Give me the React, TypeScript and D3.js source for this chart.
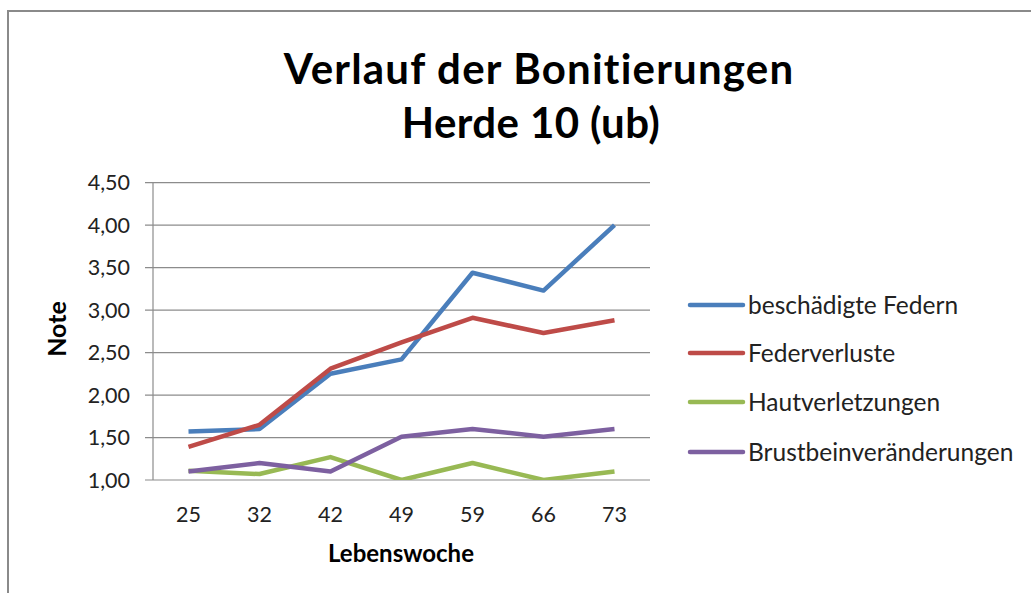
import React from "react";
import * as d3 from "d3";

const weeks = ["25", "32", "42", "49", "59", "66", "73"];
const beschaedigteFedern = [1.57, 1.6, 2.25, 2.42, 3.44, 3.23, 4.0];
const federverluste = [1.39, 1.65, 2.31, 2.62, 2.91, 2.73, 2.88];
const hautverletzungen = [1.11, 1.07, 1.27, 1.0, 1.2, 1.0, 1.1];
const brustbein = [1.1, 1.2, 1.1, 1.51, 1.6, 1.51, 1.6];
const seriesNames = ["beschädigte Federn", "Federverluste", "Hautverletzungen", "Brustbeinveränderungen"];
const seriesColors = ["#4a7ebb", "#be4b48", "#98b954", "#7d60a0"];
const yTicks = [1, 1.5, 2, 2.5, 3, 3.5, 4, 4.5];

const W = 1031;
const H = 593;
const plot = { left: 153, right: 650, top: 182.7, bottom: 480 };
const FONT = "Lato, 'Open Sans', sans-serif";

export default function App() {
  const x = d3.scaleBand<string>().domain(weeks).range([plot.left, plot.right]);
  const y = d3.scaleLinear().domain([1, 4.5]).range([plot.bottom, plot.top]);
  const data = [beschaedigteFedern, federverluste, hautverletzungen, brustbein];
  const line = d3
    .line<number>()
    .x((_, i) => (x(weeks[i]) as number) + x.bandwidth() / 2)
    .y((d) => y(d));
  const fmt = (v: number) => v.toFixed(2).replace(".", ",");
  const legendY = [305, 353, 402, 452];

  return (
    <svg width={W} height={H} style={{ position: "absolute", left: 0, top: 0, background: "#fff" }}>
      <rect x={0} y={0} width={W} height={H} fill="#fff" />
      <path d={`M8,${H + 5} V11 H${W + 5}`} fill="none" stroke="#8a8a8a" strokeWidth={2} />
      <text textAnchor="middle" fontFamily={FONT} fontWeight="bold" fontSize={42} fill="#000">
        <tspan x={539} y={84} letterSpacing={1.2}>Verlauf der Bonitierungen</tspan>
        <tspan x={531} y={138} letterSpacing={0.4}>Herde 10 (ub)</tspan>
      </text>
      <defs>
        <clipPath id="plotclip">
          <rect x={plot.left} y={plot.top - 10} width={plot.right - plot.left + 10} height={plot.bottom - plot.top + 10} />
        </clipPath>
      </defs>
      {yTicks.map((t) => (
        <g key={t}>
          <line x1={plot.left - 8} x2={plot.right} y1={y(t)} y2={y(t)} stroke="#8c8c8c" strokeWidth={1.2} />
          <text x={130} y={y(t) + 7.5} textAnchor="end" fontFamily={FONT} fontSize={21.5} fill="#222">
            {fmt(t)}
          </text>
        </g>
      ))}
      <line x1={plot.left} x2={plot.left} y1={plot.top} y2={plot.bottom} stroke="#8c8c8c" strokeWidth={1.2} />
      {weeks.map((w) => (
        <text key={w} x={(x(w) as number) + x.bandwidth() / 2} y={522} textAnchor="middle" fontFamily={FONT} fontSize={21.5} fill="#222">
          {w}
        </text>
      ))}
      <g clipPath="url(#plotclip)">
        {data.map((s, i) => (
          <path key={i} d={line(s) as string} fill="none" stroke={seriesColors[i]} strokeWidth={4.5} strokeLinejoin="round" />
        ))}
      </g>
      <text x={401} y={562} textAnchor="middle" fontFamily={FONT} fontWeight="bold" fontSize={24} fill="#000">
        Lebenswoche
      </text>
      <text transform="translate(66,329) rotate(-90)" textAnchor="middle" fontFamily={FONT} fontWeight="bold" fontSize={25} fill="#000">
        Note
      </text>
      {seriesNames.map((n, i) => (
        <g key={n}>
          <line x1={690} x2={743} y1={legendY[i]} y2={legendY[i]} stroke={seriesColors[i]} strokeWidth={4.5} strokeLinecap="round" />
          <text x={748} y={legendY[i] + 8.5} fontFamily={FONT} fontSize={24.5} fill="#222">
            {n}
          </text>
        </g>
      ))}
    </svg>
  );
}
